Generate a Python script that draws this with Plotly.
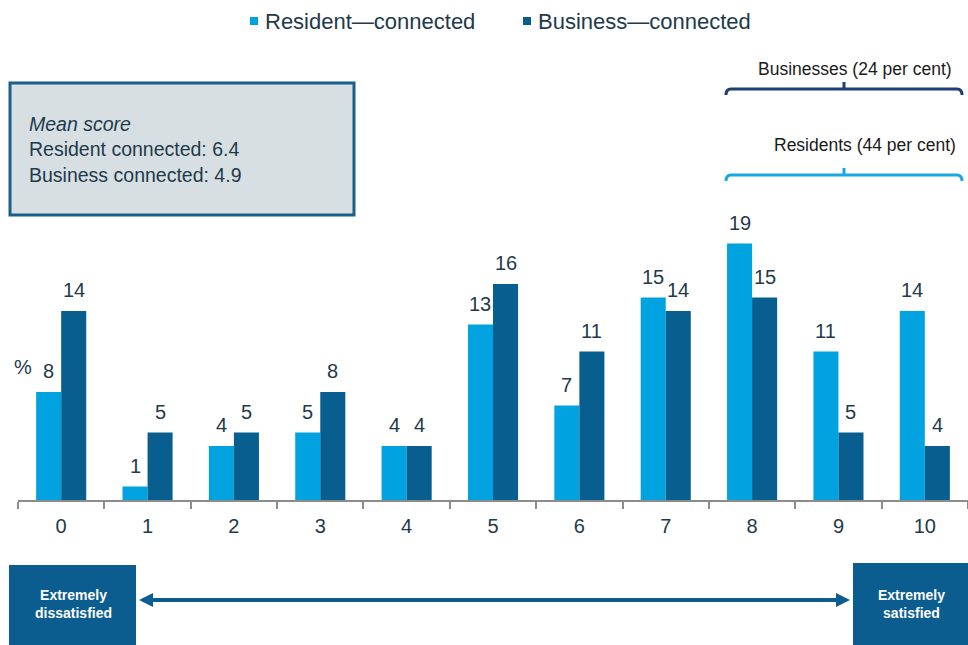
import plotly.graph_objects as go

scores = list(range(11))
score_labels = [str(s) for s in scores]
resident = [8, 1, 4, 5, 4, 13, 7, 15, 19, 11, 14]
business = [14, 5, 5, 8, 4, 16, 11, 14, 15, 5, 4]
series_names = ["Resident—connected", "Business—connected"]
mean_lines = ["<i>Mean score</i>", "Resident connected: 6.4", "Business connected: 4.9"]
bracket_labels = ["Businesses (24 per cent)", "Residents (44 per cent)"]
end_labels = ["Extremely<br>dissatisfied", "Extremely<br>satisfied"]

C_RES = "#00A3E0"
C_BUS = "#085E8E"
C_TXT = "#1E3A4C"
C_NAVY = "#1F3F73"
C_LBLUE = "#1AA7E6"
W, H = 968, 645
FONT = "Liberation Sans, Arial, sans-serif"

def px(x):
    return x / W

def py(y):
    return 1 - y / H

fig = go.Figure()
fig.add_bar(x=scores, y=resident, name=series_names[0], marker_color=C_RES,
            marker_line_width=0)
fig.add_bar(x=scores, y=business, name=series_names[1], marker_color=C_BUS,
            marker_line_width=0)

ann = []
for s, v in zip(scores, resident):
    ann.append(dict(x=s - 0.145, y=v, xref="x", yref="y", text=str(v), showarrow=False,
                    xanchor="center", yanchor="bottom", yshift=8,
                    font=dict(size=20, color=C_TXT)))
for s, v in zip(scores, business):
    ann.append(dict(x=s + 0.145, y=v, xref="x", yref="y", text=str(v), showarrow=False,
                    xanchor="center", yanchor="bottom", yshift=8,
                    font=dict(size=20, color=C_TXT)))

def pann(x, y, text, size, color=C_TXT, xanchor="center", **kw):
    return dict(x=px(x), y=py(y), xref="paper", yref="paper", text=text, showarrow=False,
                xanchor=xanchor, yanchor="middle", font=dict(size=size, color=color), **kw)

ann.append(pann(23, 367, "%", 20))

# legend-like header
ann.append(pann(263, 21, series_names[0], 22, xanchor="left"))
ann.append(pann(536, 21, series_names[1], 22, xanchor="left"))

# mean score box text
ann.append(pann(27, 149, "<br>".join(mean_lines), 19.5, xanchor="left", align="left"))

# bracket labels
ann.append(pann(954, 69, bracket_labels[0], 17.5, color="#1a1a1a", xanchor="right"))
ann.append(pann(958, 145, bracket_labels[1], 17.5, color="#1a1a1a", xanchor="right"))

# end labels
for x, t in [(73, end_labels[0]), (911, end_labels[1])]:
    bt = "<b>" + t.replace("<br>", "</b><br><b>") + "</b>"
    ann.append(pann(x, 604, bt, 14, color="white", align="center"))

shapes = []
# legend squares
shapes.append(dict(type="rect", xref="paper", yref="paper", x0=px(250), x1=px(258),
                   y0=py(25), y1=py(17), fillcolor=C_RES, line_width=0))
shapes.append(dict(type="rect", xref="paper", yref="paper", x0=px(523), x1=px(531),
                   y0=py(25), y1=py(17), fillcolor=C_BUS, line_width=0))
# mean box
shapes.append(dict(type="rect", xref="paper", yref="paper", x0=px(10), x1=px(354),
                   y0=py(215), y1=py(83), fillcolor="#D7DFE2",
                   line=dict(color="#1B5E8A", width=3)))

def bracket(y, color, l=726, r=962, m=844):
    path = (f"M {px(l)} {py(y+6)} Q {px(l)} {py(y)} {px(l+5)} {py(y)} "
            f"L {px(r-5)} {py(y)} Q {px(r)} {py(y)} {px(r)} {py(y+6)} "
            f"M {px(m)} {py(y)} L {px(m)} {py(y-7)}")
    return dict(type="path", xref="paper", yref="paper", path=path,
                line=dict(color=color, width=3))

shapes.append(bracket(89, C_NAVY))
shapes.append(bracket(175, C_LBLUE))

# bottom boxes
shapes.append(dict(type="rect", xref="paper", yref="paper", x0=px(9), x1=px(136),
                   y0=py(650), y1=py(565), fillcolor="#0B5C8F", line_width=0))
shapes.append(dict(type="rect", xref="paper", yref="paper", x0=px(853), x1=px(972),
                   y0=py(650), y1=py(563), fillcolor="#0B5C8F", line_width=0))
# double arrow
shapes.append(dict(type="line", xref="paper", yref="paper", x0=px(150), x1=px(838),
                   y0=py(600), y1=py(600), line=dict(color="#0B5C8F", width=4)))
shapes.append(dict(type="path", xref="paper", yref="paper",
                   path=f"M {px(139)} {py(600)} L {px(153)} {py(593)} L {px(153)} {py(607)} Z",
                   fillcolor="#0B5C8F", line_width=0))
shapes.append(dict(type="path", xref="paper", yref="paper",
                   path=f"M {px(850)} {py(600)} L {px(836)} {py(593)} L {px(836)} {py(607)} Z",
                   fillcolor="#0B5C8F", line_width=0))

fig.update_layout(
    width=W, height=H,
    margin=dict(l=0, r=0, t=0, b=0),
    paper_bgcolor="white", plot_bgcolor="white",
    barmode="group", bargap=0.42, bargroupgap=0,
    showlegend=False,
    font=dict(family=FONT, color=C_TXT),
    annotations=ann, shapes=shapes,
    xaxis=dict(domain=[18 / W, 1], range=[-0.5, 10.5], tickvals=scores, ticktext=score_labels,
               ticks="", showgrid=False, zeroline=False,
               showline=True, linecolor="#8C8C8C", linewidth=2,
               tickfont=dict(size=20, color=C_TXT), ticklabelstandoff=7,
               minor=dict(tickvals=[s - 0.5 for s in scores] + [10.5], ticks="outside",
                          ticklen=7, tickcolor="#8C8C8C", tickwidth=2, showgrid=False)),
    yaxis=dict(domain=[145 / H, 1], range=[0, 500 / 13.5], visible=False),
)

fig.write_html("out.html", config={"displayModeBar": False},
               post_script="document.body.style.margin='0';document.body.style.overflow='hidden';")
